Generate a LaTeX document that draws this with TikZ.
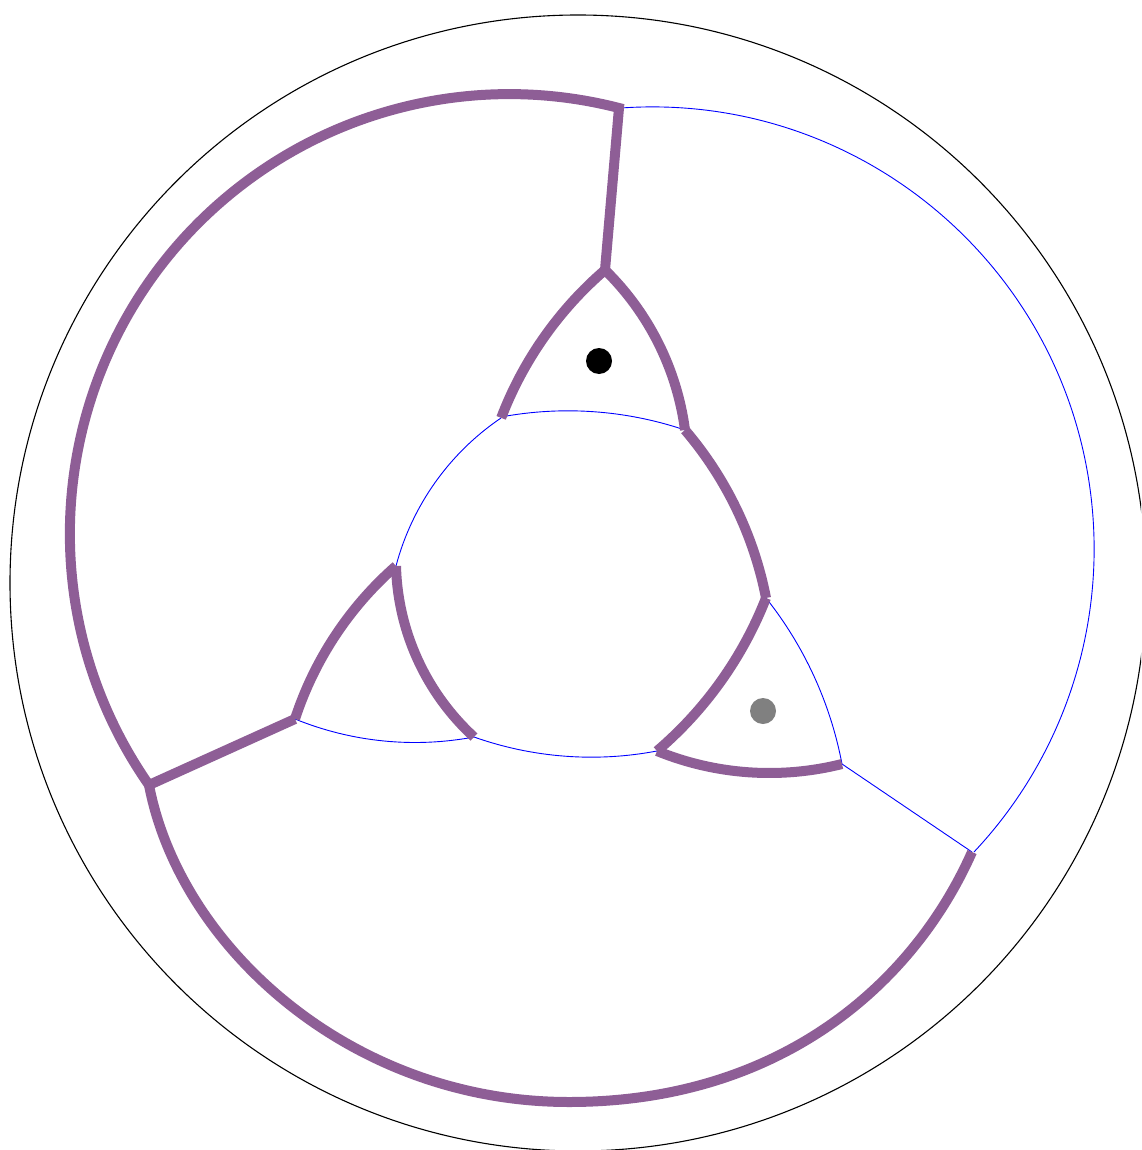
\documentclass[tikz,border=0pt]{standalone}
\definecolor{purp}{RGB}{142,94,150}
\tikzset{
  purpline/.style={draw=purp, line width=10pt, line cap=butt, line join=miter},
  blueline/.style={draw=blue, line width=0.9pt},
  rim/.style={draw=black, line width=1.1pt},
}
% circular arc through three points (pixel coordinates), optional trailing path
\newcommand\tkarc[8]{%
  \pgfmathsetmacro\tkAx{#2/100}\pgfmathsetmacro\tkAy{#3/100}%
  \pgfmathsetmacro\tkBx{#4/100}\pgfmathsetmacro\tkBy{#5/100}%
  \pgfmathsetmacro\tkCx{#6/100}\pgfmathsetmacro\tkCy{#7/100}%
  \pgfmathsetmacro\tkQa{\tkAx*\tkAx+\tkAy*\tkAy}%
  \pgfmathsetmacro\tkQb{\tkBx*\tkBx+\tkBy*\tkBy}%
  \pgfmathsetmacro\tkQc{\tkCx*\tkCx+\tkCy*\tkCy}%
  \pgfmathsetmacro\tkD{2*(\tkAx*(\tkBy-\tkCy)+\tkBx*(\tkCy-\tkAy)+\tkCx*(\tkAy-\tkBy))}%
  \pgfmathsetmacro\tkUx{(\tkQa*(\tkBy-\tkCy)+\tkQb*(\tkCy-\tkAy)+\tkQc*(\tkAy-\tkBy))/\tkD}%
  \pgfmathsetmacro\tkUy{(\tkQa*(\tkCx-\tkBx)+\tkQb*(\tkAx-\tkCx)+\tkQc*(\tkBx-\tkAx))/\tkD}%
  \pgfmathsetmacro\tkR{100*veclen(\tkAx-\tkUx,\tkAy-\tkUy)}%
  \pgfmathsetmacro\tkSa{atan2(\tkAy-\tkUy,\tkAx-\tkUx)}%
  \pgfmathsetmacro\tkSb{atan2(\tkBy-\tkUy,\tkBx-\tkUx)}%
  \pgfmathsetmacro\tkSc{atan2(\tkCy-\tkUy,\tkCx-\tkUx)}%
  \pgfmathsetmacro\tkDb{mod(\tkSb-\tkSa+720,360)}%
  \pgfmathsetmacro\tkDc{mod(\tkSc-\tkSa+720,360)}%
  \pgfmathsetmacro\tkE{\tkSa+\tkDc-360*(\tkDb>\tkDc)}%
  \draw[#1] (#2,#3) arc[start angle=\tkSa, end angle=\tkE, radius=\tkR] #8;%
}
\begin{document}
\begin{tikzpicture}[x=1pt,y=-1pt]
\useasboundingbox (0,0) rectangle (1141,1150);
\clip (0,0) rectangle (1141,1150);
% key points
\coordinate (T) at (619,108);
\coordinate (Ta) at (605,270);
\coordinate (Ll) at (295,719);
\coordinate (Rr) at (842,764);
\coordinate (BL) at (149,785);
\coordinate (BR) at (972,852);
\coordinate (BM) at (569,1102);
% boundary circle
\draw[rim] (578,583) circle[radius=568];
% thin blue geodesics
\tkarc{blueline}{621}{108}{1094}{560}{974}{852}{}
\tkarc{blueline}{501}{417}{580}{411}{685}{430}{}
\tkarc{blueline}{501}{418}{447}{467}{396}{566}{}
\tkarc{blueline}{295}{719}{397}{742}{474}{737}{}
\tkarc{blueline}{474}{737}{580}{757}{657}{751}{}
\tkarc{blueline}{766}{598}{820}{690}{842}{764}{}
\draw[blueline] (Rr) -- (BR);
% thick purple curves
\tkarc{purpline}{149}{785}{131}{310}{619}{108}{-- (Ta)}
\draw[purpline] (BL) .. controls (180,947) and (351,1102) .. (BM)
                     .. controls (779,1102) and (913,985) .. (BR);
\draw[purpline] (BL) -- (Ll);
\tkarc{purpline}{605}{270}{547}{333}{501}{418}{}
\tkarc{purpline}{605}{270}{653}{333}{685}{430}{}
\tkarc{purpline}{685}{430}{747}{533}{766}{598}{}
\tkarc{purpline}{766}{598}{713}{692}{657}{751}{}
\tkarc{purpline}{657}{751}{770}{773}{842}{764}{}
\tkarc{purpline}{396}{566}{337}{633}{295}{719}{}
\tkarc{purpline}{396}{566}{430}{683}{474}{737}{}
% dots
\fill[black] (599,361) circle[radius=13];
\fill[gray] (763,711) circle[radius=13];
\end{tikzpicture}
\end{document}
